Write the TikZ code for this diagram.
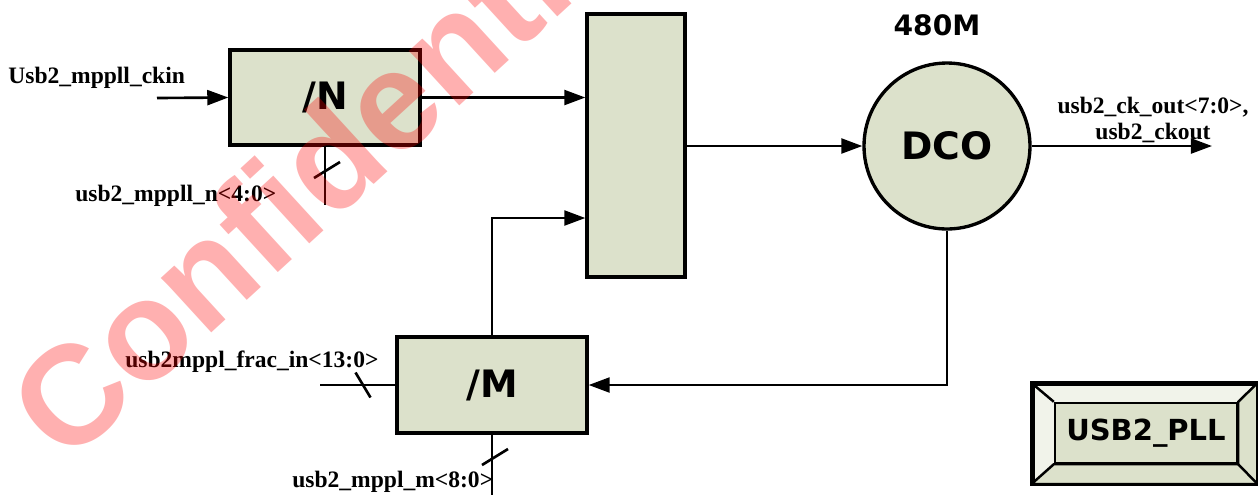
\documentclass[tikz,border=0pt]{standalone}
\usepackage{fontspec}
\setmainfont{Liberation Serif}
\newfontfamily\blockfont{DejaVu Sans}
\newfontfamily\markfont{Liberation Sans}
\usepackage{tikz}
\usetikzlibrary{arrows.meta}
\usetikzlibrary{calc}
\definecolor{blockfill}{HTML}{DCE1CB}
\definecolor{bevellight}{HTML}{F1F3EA}
\tikzset{
    wire/.style={line width=1.5pt},
    blockbox/.style={draw, fill=blockfill, line width=1.9pt, inner sep=0pt,
        font=\blockfont\bfseries\fontsize{21.5}{25}\selectfont},
    siglabel/.style={inner sep=0pt, font=\bfseries\fontsize{13.4}{14.7}\selectfont},
    btnouter/.style={draw, fill=bevellight, line width=1.8pt, inner sep=0pt,
        minimum width=4.46cm, minimum height=1.96cm},
    btninner/.style={draw, fill=blockfill, line width=1.4pt, inner sep=0pt,
        minimum width=3.64cm, minimum height=1.2cm,
        font=\blockfont\bfseries\fontsize{16.5}{20}\selectfont},
    wmark/.style={inner sep=0pt, text=red, opacity=0.31,
        font=\markfont\bfseries\fontsize{80}{90}\selectfont},
}
\newcommand{\drawwire}{\draw[wire, -{Triangle[length=12pt,width=8.5pt]}]}
\newcommand{\busslash}[3]{\draw[wire] (#1) ++(-#2,-#3) -- ++(2*#2,2*#3);}

\begin{document}
\begin{tikzpicture}[x=0.02cm, y=-0.02cm]
    \useasboundingbox (0,0) rectangle (1258,495);

    % Draw blocks
    \node[blockbox, minimum width=3.8cm, minimum height=1.9cm] (divN) at (325,97.5) {/N};
    \node[blockbox, minimum width=1.96cm, minimum height=5.26cm] (mux) at (636,145.5) {};
    \node[blockbox, circle, minimum size=3.32cm] (dco) at (947,146) {DCO};
    \node[blockbox, minimum width=3.8cm, minimum height=1.92cm] (divM) at (492,385) {/M};

    % Free wire ends
    \coordinate (ckin) at (157,98);
    \coordinate (ckout) at (1212,146);
    \coordinate (nbus) at (325,205);
    \coordinate (fracin) at (320,385);
    \coordinate (mbus) at (492,495);
    \coordinate (muxlow) at (mux.west |- 0,218);

    % Draw connections
    \drawwire (ckin) -- (divN.west);
    \drawwire (divN.east) -- (divN.east -| mux.west);
    \drawwire (divM.north) |- (muxlow);
    \drawwire (mux.east |- dco.west) -- (dco.west);
    \drawwire (dco.east) -- (ckout);
    \drawwire (dco.south) |- (divM.east);
    \draw[wire] (divN.south) -- (nbus);
    \draw[wire] (fracin) -- (divM.west);
    \draw[wire] (divM.south) -- (mbus);

    % Bus marks
    \coordinate (nmark) at (327,170);
    \coordinate (fracmark) at (363,385);
    \coordinate (mmark) at (495,457);
    \busslash{nmark}{13}{-8}
    \busslash{fracmark}{7.5}{12.5}
    \busslash{mmark}{13}{-8}

    % Signal labels
    \node[siglabel, anchor=base west] (ckinlbl) at (8,83) {Usb2\_mppll\_ckin};
    \node[siglabel, anchor=base west] (nlbl) at (75,201) {usb2\_mppll\_n<4:0>};
    \node[siglabel, anchor=base west] (fraclbl) at (125,367) {usb2mppl\_frac\_in<13:0>};
    \node[siglabel, anchor=base west] (mlbl) at (292,487) {usb2\_mppl\_m<8:0>};
    \node[siglabel, align=center] (outlbl) at (1153,120) {usb2\_ck\_out<7:0>,\\usb2\_ckout};
    \node[inner sep=0pt, anchor=base, font=\blockfont\bfseries\fontsize{16}{19}\selectfont]
        (freqlbl) at (937,35) {480M};

    % Block button
    \node[btnouter] (pllbtn) at (1144.5,433.5) {};
    \node[btninner] (pllface) at (1146,433) {USB2\_PLL};
    \filldraw[fill=blockfill, line width=1.4pt, line join=round]
        (pllbtn.north east) -- (pllbtn.south east) -- (pllbtn.south west)
        -- (pllface.south west) -- (pllface.south east) -- (pllface.north east) -- cycle;
    \draw[line width=1.4pt] (pllbtn.north west) -- (pllface.north west);
    \draw[line width=1.4pt] (pllbtn.south east) -- (pllface.south east);
    \draw[line width=1.8pt] (pllbtn.north west) rectangle (pllbtn.south east);

    % Watermark
    \begin{scope}
        \clip (0,0) rectangle (1258,495);
        \node[wmark, rotate=42.5] (conf) at (332,155) {Confidential};
    \end{scope}
\end{tikzpicture}
\end{document}
